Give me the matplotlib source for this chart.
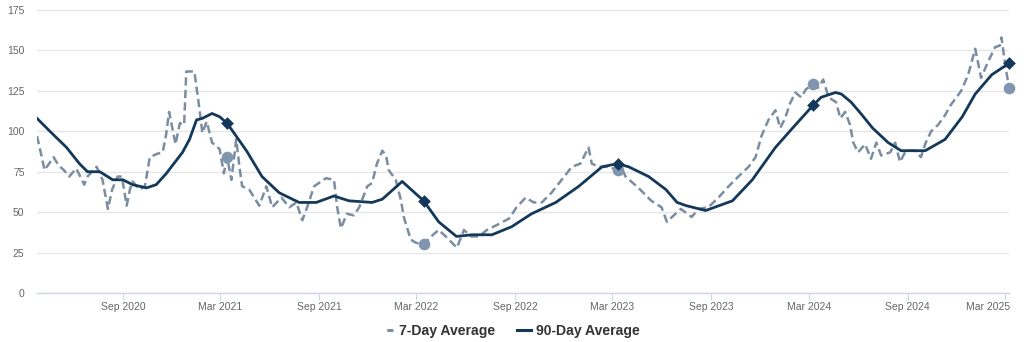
import matplotlib
matplotlib.use("Agg")
import matplotlib.pyplot as plt
import matplotlib.dates as mdates
import matplotlib.transforms as mtransforms
from matplotlib.lines import Line2D
import pandas as pd

# ---- data ----
day7_dates = [
    "2020-03-25", "2020-04-03", "2020-04-08", "2020-04-25", "2020-05-04", "2020-05-14",
    "2020-05-24", "2020-06-06", "2020-06-21", "2020-06-27", "2020-07-14", "2020-07-25",
    "2020-08-04", "2020-08-12", "2020-08-22", "2020-08-30", "2020-09-08", "2020-09-14",
    "2020-09-19", "2020-10-02", "2020-10-12", "2020-10-21", "2020-11-03", "2020-11-14",
    "2020-11-20", "2020-11-26", "2020-12-08", "2020-12-16", "2020-12-24", "2020-12-28",
    "2021-01-12", "2021-01-21", "2021-01-27", "2021-02-04", "2021-02-14", "2021-02-28",
    "2021-03-08", "2021-03-14", "2021-03-22", "2021-03-31", "2021-04-06", "2021-04-11",
    "2021-04-24", "2021-05-13", "2021-05-26", "2021-06-06", "2021-06-23", "2021-07-08",
    "2021-07-21", "2021-08-01", "2021-08-10", "2021-08-23", "2021-09-14", "2021-09-29",
    "2021-10-05", "2021-10-12", "2021-10-23", "2021-11-05", "2021-11-15", "2021-11-30",
    "2021-12-09", "2021-12-18", "2021-12-28", "2022-01-04", "2022-01-09", "2022-01-22",
    "2022-02-01", "2022-02-06", "2022-02-19", "2022-03-01", "2022-03-15", "2022-03-29",
    "2022-04-12", "2022-04-25", "2022-05-16", "2022-05-29", "2022-06-11", "2022-06-26",
    "2022-07-11", "2022-07-29", "2022-08-21", "2022-09-04", "2022-09-21", "2022-10-06",
    "2022-10-21", "2022-11-08", "2022-11-27", "2022-12-16", "2023-01-01", "2023-01-16",
    "2023-01-22", "2023-02-04", "2023-02-23", "2023-03-11", "2023-03-19", "2023-03-26",
    "2023-04-19", "2023-05-13", "2023-06-01", "2023-06-11", "2023-06-27", "2023-07-07",
    "2023-07-27", "2023-08-09", "2023-08-27", "2023-09-15", "2023-10-04", "2023-10-22",
    "2023-11-10", "2023-11-23", "2023-12-04", "2023-12-17", "2023-12-30", "2024-01-08",
    "2024-01-17", "2024-01-26", "2024-02-05", "2024-02-16", "2024-02-25", "2024-03-09",
    "2024-03-19", "2024-03-28", "2024-04-07", "2024-04-21", "2024-04-29", "2024-05-08",
    "2024-05-17", "2024-05-23", "2024-06-01", "2024-06-14", "2024-06-25", "2024-07-05",
    "2024-07-14", "2024-07-31", "2024-08-09", "2024-08-18", "2024-08-29", "2024-09-15",
    "2024-09-26", "2024-10-05", "2024-10-15", "2024-10-28", "2024-11-10", "2024-11-20",
    "2024-11-29", "2024-12-10", "2024-12-23", "2025-01-05", "2025-01-10", "2025-01-16",
    "2025-01-29", "2025-02-11", "2025-02-20", "2025-02-23", "2025-03-02", "2025-03-09",
]
day7_values = [
    97, 84, 76, 84, 79, 76,
    72, 77, 67, 72, 78, 70,
    52, 64, 72, 72, 54, 64,
    69, 64, 66, 84, 86, 87,
    97, 112, 92, 105, 104, 137,
    137, 115, 99, 106, 93, 89,
    74, 84, 70, 95, 78, 66,
    64, 54, 66, 53, 59, 53,
    56, 45, 53, 66, 71, 70,
    53, 40, 49, 48, 53, 66,
    68, 80, 88, 85, 76, 70,
    57, 47, 33, 31, 30, 35,
    39, 35, 28, 39, 35, 35,
    39, 42, 46, 53, 59, 56,
    56, 62, 70, 78, 80, 90,
    80, 78, 78, 76, 77, 72,
    65, 57, 53, 44, 49, 52,
    47, 52, 53, 59, 66, 72,
    78, 84, 97, 107, 113, 102,
    108, 117, 124, 121, 126, 129,
    127, 132, 121, 118, 108, 112,
    104, 93, 87, 92, 83, 93,
    85, 87, 93, 81, 88, 88,
    84, 93, 100, 104, 110, 116,
    120, 125, 135, 151, 143, 133,
    143, 152, 153, 158, 141, 127,
]

day90_dates = [
    "2020-03-25", "2020-04-18", "2020-05-19", "2020-06-12", "2020-06-27", "2020-07-20",
    "2020-08-13", "2020-09-01", "2020-09-19", "2020-10-15", "2020-11-02", "2020-11-21",
    "2020-12-21", "2021-01-03", "2021-01-16", "2021-01-27", "2021-02-14", "2021-02-28",
    "2021-03-14", "2021-04-19", "2021-05-18",
    "2021-06-19", "2021-07-26", "2021-08-27", "2021-09-29", "2021-10-27", "2021-12-09",
    "2021-12-28", "2022-02-03", "2022-03-15", "2022-04-12", "2022-05-15", "2022-06-13",
    "2022-07-20", "2022-08-26", "2022-10-02", "2022-11-16", "2022-12-29", "2023-02-10",
    "2023-03-11", "2023-04-01", "2023-05-08", "2023-06-09", "2023-06-30", "2023-07-17",
    "2023-08-22", "2023-10-11", "2023-11-17", "2023-12-30", "2024-01-31", "2024-03-09",
    "2024-03-24", "2024-04-20", "2024-05-01", "2024-05-19", "2024-06-06", "2024-06-28",
    "2024-07-27", "2024-08-20", "2024-10-04",
    "2024-11-10", "2024-12-12", "2025-01-05", "2025-02-05", "2025-03-09",
]
day90_values = [
    108, 100, 90, 80, 75, 75,
    70, 70, 67, 65, 67, 74,
    87, 95, 107, 108, 111, 109,
    105, 88, 72,
    62, 56, 56, 60, 57, 56,
    58, 69, 57, 44, 35, 36,
    36, 41, 49, 56, 66, 78,
    80, 78, 72, 64, 56, 54,
    51, 57, 70, 90, 102, 116,
    121, 124, 123, 118, 111, 102,
    93, 88, 88,
    95, 109, 123, 135, 142,
]

marker_dates = ["2021-03-14", "2022-03-15", "2023-03-11", "2024-03-09", "2025-03-09"]
marker_day90 = [105, 57, 80, 116, 142]
marker_day7 = [84, 30, 76, 129, 127]

series_names = ["7-Day Average", "90-Day Average"]
y_ticks = [0, 25, 50, 75, 100, 125, 150, 175]

# ---- styling ----
C7 = "#7b8da1"
C7_MARK = "#7f96ae"
C90 = "#14385a"
GRID = "#e6e6e6"
AXIS = "#ccd6eb"
FONT = "Liberation Sans"

d7 = pd.to_datetime(day7_dates)
d90 = pd.to_datetime(day90_dates)
dm = pd.to_datetime(marker_dates)

fig = plt.figure(figsize=(10.24, 3.42), dpi=100)
ax = fig.add_axes([37 / 1024, 1 - 293 / 342, (1009 - 37) / 1024, (293 - 10) / 342])

ax.plot(d7, day7_values, color=C7, lw=1.8, linestyle=(0, (3.3, 1.7)),
        dash_capstyle="butt", zorder=3)
ax.plot(d90, day90_values, color=C90, lw=2.0, solid_joinstyle="round", zorder=4)
ax.scatter(dm, marker_day7, s=70, color=C7_MARK, zorder=5, clip_on=False, linewidths=0)
ax.scatter(dm, marker_day90, s=42, marker="D", color=C90, zorder=6, clip_on=False, linewidths=0)

ax.set_ylim(0, 175)
ax.set_yticks(y_ticks)
ax.set_xlim(d7[0], d7[-1])

ax.xaxis.set_major_locator(mdates.MonthLocator(bymonth=[3, 9]))
ax.xaxis.set_major_formatter(mdates.DateFormatter("%b %Y"))

ax.grid(axis="y", color=GRID, lw=1)
ax.set_axisbelow(True)
for side in ["left", "right", "top"]:
    ax.spines[side].set_visible(False)
ax.spines["bottom"].set_color(AXIS)
ax.spines["bottom"].set_linewidth(1)

ax.tick_params(axis="y", length=0, pad=9, labelsize=7.5, labelcolor="#666666")
ax.tick_params(axis="x", length=5, width=0.8, color=AXIS, pad=1.5,
               labelsize=7.5, labelcolor="#666666")
for lab in ax.get_xticklabels() + ax.get_yticklabels():
    lab.set_fontfamily(FONT)

# keep the last date label inside the figure (justified like the reference)
fig.canvas.draw()
last = ax.get_xticklabels()[-1]
last.set_horizontalalignment("right")
last.set_transform(last.get_transform() +
                   mtransforms.ScaledTranslation(5 / 100, 0, fig.dpi_scale_trans))

handles = [
    Line2D([0], [0], color=C7, lw=2.2, linestyle=(0, (0.001, 1.9, 2.0, 10))),
    Line2D([0], [0], color=C90, lw=2.2),
]
leg = fig.legend(handles, series_names, loc="center", bbox_to_anchor=(0.498, 1 - 331 / 342),
                 ncol=2, frameon=False, handlelength=0.95, handletextpad=0.35,
                 columnspacing=1.6, prop={"family": FONT, "weight": "bold", "size": 10.1})
for t in leg.get_texts():
    t.set_color("#333333")

fig.savefig("out.png", dpi=100, facecolor="white")
